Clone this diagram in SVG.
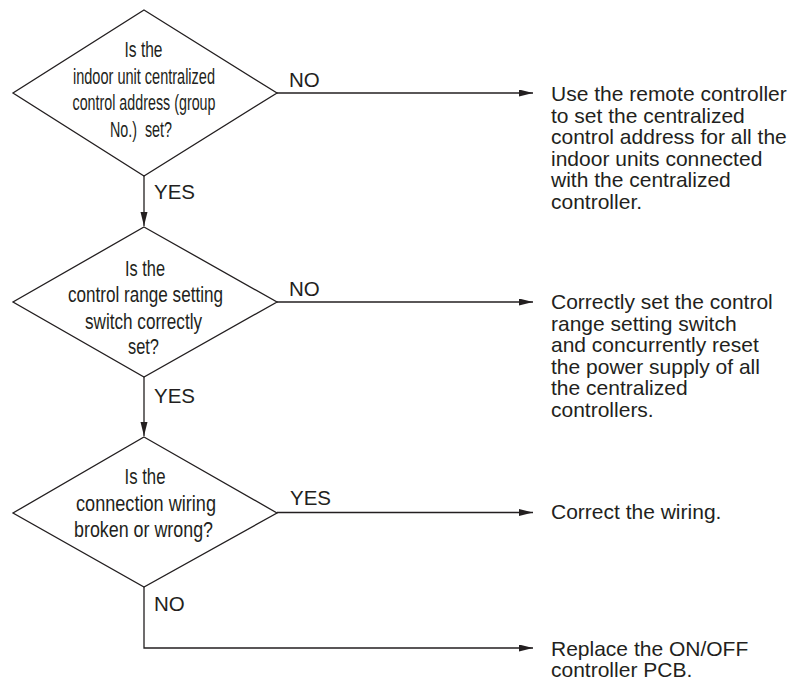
<svg xmlns="http://www.w3.org/2000/svg" width="793" height="686" viewBox="0 0 793 686">
<style>
.shape{fill:#fff;stroke:#231f20;stroke-width:1.3}
.conn{fill:none;stroke:#231f20;stroke-width:1.3}
.dt{font-family:"Liberation Sans",Arial,sans-serif;font-size:22px;fill:#231f20;text-anchor:middle}
.lbl{font-family:"Liberation Sans",Arial,sans-serif;font-size:20.5px;fill:#231f20}
.rt{font-family:"Liberation Sans",Arial,sans-serif;font-size:21px;fill:#231f20}
</style>
<defs>
<marker id="arr" markerUnits="userSpaceOnUse" markerWidth="15" markerHeight="8" refX="14" refY="3.5" orient="auto">
<path d="M0,0 L14,3.5 L0,7 Z" fill="#231f20"/>
</marker>
</defs>
<rect width="793" height="686" fill="#fff"/>
<g id="connectors">
<path class="conn" d="M144,176 V226" marker-end="url(#arr)"/>
<path class="conn" d="M144,377 V436" marker-end="url(#arr)"/>
<path class="conn" d="M144,587 V648 H533" marker-end="url(#arr)"/>
<path class="conn" d="M277,93 H533" marker-end="url(#arr)"/>
<path class="conn" d="M277,302 H533" marker-end="url(#arr)"/>
<path class="conn" d="M277,512.5 H533" marker-end="url(#arr)"/>
<text class="lbl" x="289" y="87">NO</text>
<text class="lbl" x="154" y="199">YES</text>
<text class="lbl" x="289" y="296">NO</text>
<text class="lbl" x="154" y="403">YES</text>
<text class="lbl" x="290" y="505">YES</text>
<text class="lbl" x="154" y="611">NO</text>
</g>
<g id="d1">
<polygon class="shape" points="144,10 277,93 144,176 13,93"/>
<text class="dt" x="143.5" y="57" textLength="38" lengthAdjust="spacingAndGlyphs">Is the</text>
<text class="dt" x="144" y="83.5" textLength="142" lengthAdjust="spacingAndGlyphs">indoor unit centralized</text>
<text class="dt" x="144" y="110" textLength="143" lengthAdjust="spacingAndGlyphs">control address (group</text>
<text class="dt" x="141" y="136.5" textLength="62" lengthAdjust="spacingAndGlyphs" xml:space="preserve">No.)  set?</text>
</g>
<g id="d2">
<polygon class="shape" points="144,227 277,302 144,377 13,302"/>
<text class="dt" x="145" y="275.5" textLength="40" lengthAdjust="spacingAndGlyphs">Is the</text>
<text class="dt" x="145.5" y="302" textLength="155" lengthAdjust="spacingAndGlyphs">control range setting</text>
<text class="dt" x="143.5" y="328.5" textLength="117" lengthAdjust="spacingAndGlyphs">switch correctly</text>
<text class="dt" x="143.5" y="353.5" textLength="31" lengthAdjust="spacingAndGlyphs">set?</text>
</g>
<g id="d3">
<polygon class="shape" points="144,437 277,513 144,587 13,513"/>
<text class="dt" x="145" y="483.5" textLength="41" lengthAdjust="spacingAndGlyphs">Is the</text>
<text class="dt" x="146" y="510.5" textLength="140" lengthAdjust="spacingAndGlyphs">connection wiring</text>
<text class="dt" x="143.5" y="536.5" textLength="139" lengthAdjust="spacingAndGlyphs">broken or wrong?</text>
</g>
<g id="r1">
<text class="rt" x="551" y="101">Use the remote controller</text>
<text class="rt" x="551" y="122.5">to set the centralized</text>
<text class="rt" x="551" y="144">control address for all the</text>
<text class="rt" x="551" y="165.5">indoor units connected</text>
<text class="rt" x="551" y="187">with the centralized</text>
<text class="rt" x="551" y="208.5">controller.</text>
</g>
<g id="r2">
<text class="rt" x="551" y="309">Correctly set the control</text>
<text class="rt" x="551" y="330.5">range setting switch</text>
<text class="rt" x="551" y="352">and concurrently reset</text>
<text class="rt" x="551" y="373.5">the power supply of all</text>
<text class="rt" x="551" y="395">the centralized</text>
<text class="rt" x="551" y="416.5">controllers.</text>
</g>
<g id="r3">
<text class="rt" x="551" y="519">Correct the wiring.</text>
</g>
<g id="r4">
<text class="rt" x="551" y="655.5">Replace the ON/OFF</text>
<text class="rt" x="551" y="677">controller PCB.</text>
</g>
</svg>
